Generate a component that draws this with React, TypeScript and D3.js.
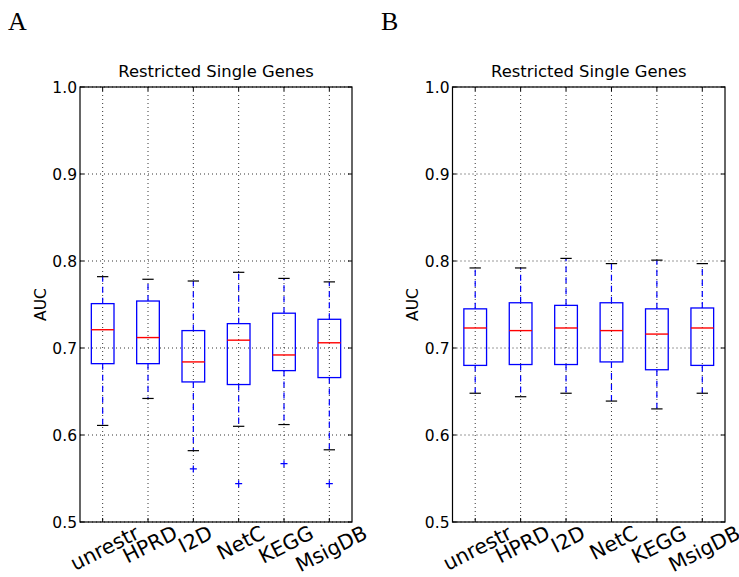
import React, { useEffect, useRef } from "react";
import * as d3 from "d3";

const categories = ["unrestr", "HPRD", "I2D", "NetC", "KEGG", "MsigDB"];
const yTicks = [0.5, 0.6, 0.7, 0.8, 0.9, 1.0];

// Panel A
const whiskerLowA = [0.611, 0.642, 0.582, 0.610, 0.612, 0.583];
const q1A = [0.682, 0.682, 0.661, 0.658, 0.674, 0.666];
const medianA = [0.721, 0.712, 0.684, 0.709, 0.692, 0.706];
const q3A = [0.751, 0.754, 0.720, 0.728, 0.740, 0.733];
const whiskerHighA = [0.782, 0.779, 0.777, 0.787, 0.780, 0.776];
const outliersA = [[], [], [0.561], [0.544], [0.567], [0.544]];

// Panel B
const whiskerLowB = [0.648, 0.644, 0.648, 0.639, 0.630, 0.648];
const q1B = [0.680, 0.681, 0.681, 0.684, 0.675, 0.680];
const medianB = [0.723, 0.720, 0.723, 0.720, 0.716, 0.723];
const q3B = [0.745, 0.752, 0.749, 0.752, 0.745, 0.746];
const whiskerHighB = [0.792, 0.792, 0.803, 0.797, 0.801, 0.797];
const outliersB: number[][] = [[], [], [], [], [], []];

const panels = [
  { letter: "A", letterX: 8, left: 80, right: 352, lo: whiskerLowA, q1: q1A, med: medianA, q3: q3A, hi: whiskerHighA, out: outliersA, labelX: 41 },
  { letter: "B", letterX: 381, left: 452.5, right: 725, lo: whiskerLowB, q1: q1B, med: medianB, q3: q3B, hi: whiskerHighB, out: outliersB, labelX: 413 },
];

const TOP = 87;
const BOTTOM = 522;
const FONT = "'DejaVu Sans', sans-serif";

export default function App() {
  const ref = useRef<SVGSVGElement | null>(null);
  useEffect(() => {
    const svg = d3.select(ref.current);
    svg.selectAll("*").remove();
    const y = d3.scaleLinear().domain([0.5, 1.0]).range([BOTTOM, TOP]);

    panels.forEach((p) => {
      const x = d3.scaleLinear().domain([0.5, categories.length + 0.5]).range([p.left, p.right]);
      const step = x(2) - x(1);
      const bw = step * 0.5;
      const cw = step * 0.25;
      const g = svg.append("g");

      g.append("text").attr("x", p.letterX).attr("y", 30)
        .attr("font-family", "'Liberation Serif', 'DejaVu Serif', serif").attr("font-size", 26)
        .text(p.letter);

      g.append("text").attr("x", (p.left + p.right) / 2).attr("y", 77)
        .attr("text-anchor", "middle").attr("font-family", FONT).attr("font-size", 16.4)
        .text("Restricted Single Genes");

      const grid = g.append("g").attr("stroke", "#000").attr("stroke-width", 0.8).attr("stroke-dasharray", "1,3");
      categories.forEach((_, i) => {
        grid.append("line").attr("x1", x(i + 1)).attr("x2", x(i + 1)).attr("y1", TOP).attr("y2", BOTTOM);
      });
      yTicks.forEach((t) => {
        grid.append("line").attr("x1", p.left).attr("x2", p.right).attr("y1", y(t)).attr("y2", y(t));
      });

      categories.forEach((_, i) => {
        const cx = x(i + 1);
        g.append("line").attr("x1", cx).attr("x2", cx).attr("y1", y(p.q1[i])).attr("y2", y(p.lo[i]))
          .attr("stroke", "#0000ff").attr("stroke-width", 1.2).attr("stroke-dasharray", "6,5");
        g.append("line").attr("x1", cx).attr("x2", cx).attr("y1", y(p.q3[i])).attr("y2", y(p.hi[i]))
          .attr("stroke", "#0000ff").attr("stroke-width", 1.2).attr("stroke-dasharray", "6,5");
        [p.lo[i], p.hi[i]].forEach((v) => {
          g.append("line").attr("x1", cx - cw / 2).attr("x2", cx + cw / 2).attr("y1", y(v)).attr("y2", y(v))
            .attr("stroke", "#000").attr("stroke-width", 1.2);
        });
        g.append("rect").attr("x", cx - bw / 2).attr("y", y(p.q3[i])).attr("width", bw)
          .attr("height", y(p.q1[i]) - y(p.q3[i])).attr("fill", "none")
          .attr("stroke", "#0000ff").attr("stroke-width", 1.3);
        g.append("line").attr("x1", cx - bw / 2).attr("x2", cx + bw / 2).attr("y1", y(p.med[i])).attr("y2", y(p.med[i]))
          .attr("stroke", "#ff0000").attr("stroke-width", 1.4);
        p.out[i].forEach((v) => {
          const oy = y(v);
          g.append("path").attr("d", `M${cx - 3.5},${oy}H${cx + 3.5}M${cx},${oy - 3.5}V${oy + 3.5}`)
            .attr("stroke", "#0000ff").attr("stroke-width", 1.2).attr("fill", "none");
        });
      });

      g.append("rect").attr("x", p.left).attr("y", TOP).attr("width", p.right - p.left).attr("height", BOTTOM - TOP)
        .attr("fill", "none").attr("stroke", "#000").attr("stroke-width", 1.2);

      const ticks = g.append("g").attr("stroke", "#000").attr("stroke-width", 1);
      yTicks.forEach((t) => {
        ticks.append("line").attr("x1", p.left).attr("x2", p.left + 4).attr("y1", y(t)).attr("y2", y(t));
        ticks.append("line").attr("x1", p.right - 4).attr("x2", p.right).attr("y1", y(t)).attr("y2", y(t));
        g.append("text").attr("x", p.left - 3).attr("y", y(t)).attr("dy", "0.36em")
          .attr("text-anchor", "end").attr("font-family", FONT).attr("font-size", 15.5)
          .text(d3.format(".1f")(t));
      });
      categories.forEach((c, i) => {
        const cx = x(i + 1);
        ticks.append("line").attr("x1", cx).attr("x2", cx).attr("y1", BOTTOM).attr("y2", BOTTOM - 4);
        ticks.append("line").attr("x1", cx).attr("x2", cx).attr("y1", TOP).attr("y2", TOP + 4);
        const fs = 20.5;
        const t = g.append("text").attr("text-anchor", "middle").attr("dy", "0.35em")
          .attr("font-family", FONT).attr("font-size", fs).text(c);
        const w = (t.node() as SVGTextElement).getComputedTextLength();
        const h = fs * 0.9;
        const a = (27 * Math.PI) / 180;
        const bh = w * Math.sin(a) + h * Math.cos(a);
        t.attr("transform", `translate(${cx + 2},${BOTTOM + 1 + bh / 2}) rotate(-27)`);
      });

      g.append("text").attr("transform", `translate(${p.labelX},${(TOP + BOTTOM) / 2}) rotate(-90)`)
        .attr("text-anchor", "middle").attr("dy", "0.35em").attr("font-family", FONT).attr("font-size", 15.5)
        .text("AUC");
    });
  }, []);

  return (
    <svg ref={ref} width={739} height={577}
      style={{ position: "absolute", left: 0, top: 0, background: "#fff" }} />
  );
}
